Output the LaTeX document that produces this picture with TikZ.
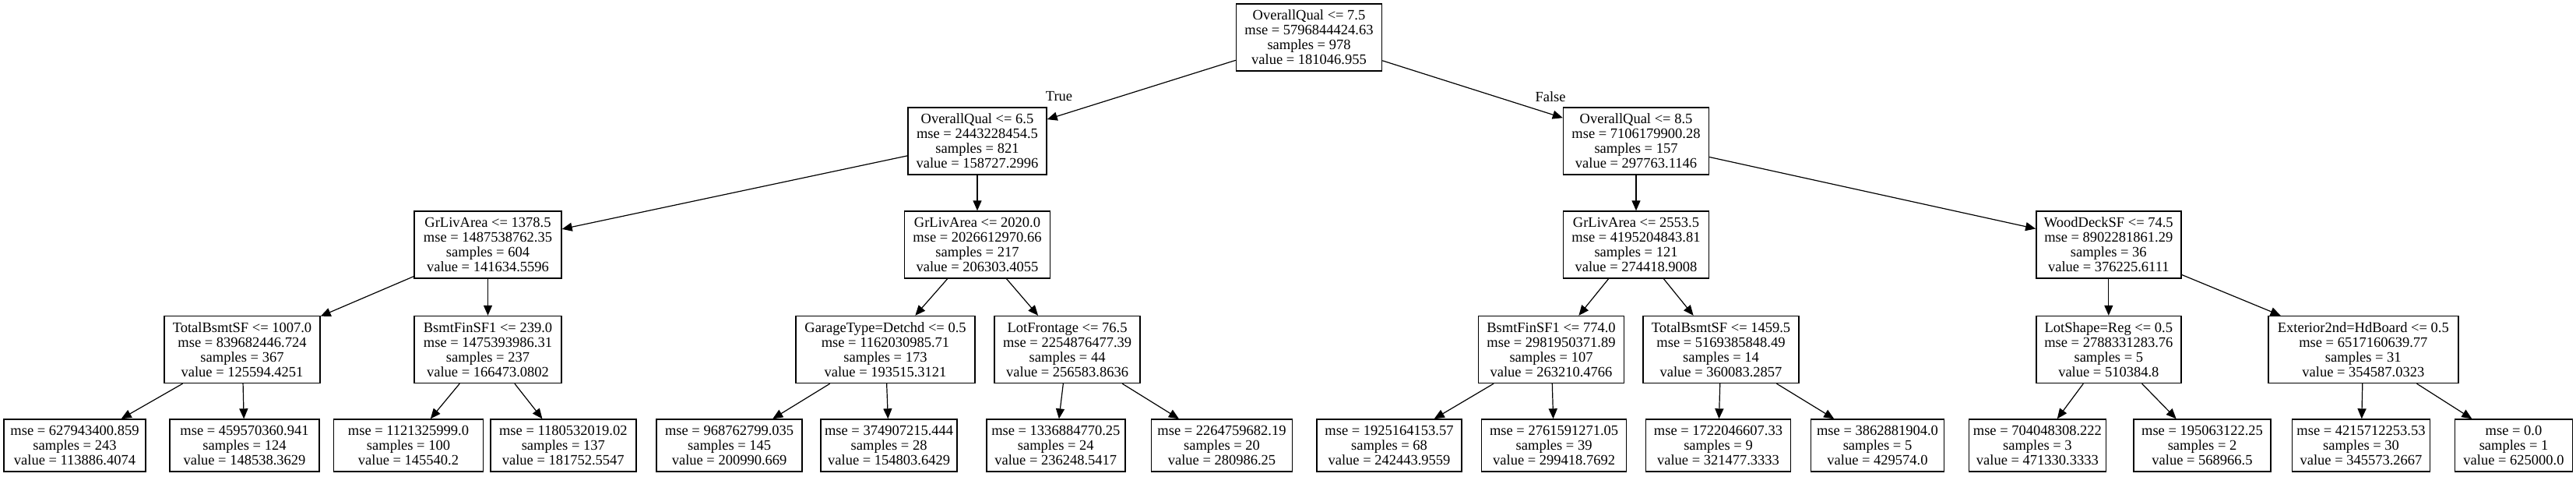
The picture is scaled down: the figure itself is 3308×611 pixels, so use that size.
\documentclass[tikz,border=0pt]{standalone}
\usepackage{fontspec}
\setmainfont{Liberation Serif}
\usetikzlibrary{arrows.meta}
\begin{document}
\begin{tikzpicture}[x=1pt,y=-1pt,
  tn/.style={draw=black, line width=1.4pt, rectangle, align=center, inner xsep=2pt, inner ysep=0pt,
             font=\fontsize{18.5}{19}\selectfont, minimum height=86pt},
  leaf/.style={tn, minimum height=67pt},
  edge/.style={-{Triangle[length=13pt,width=11pt]}, line width=1.2pt},
  lbl/.style={font=\fontsize{18.5}{19}\selectfont, inner sep=0pt}]
\useasboundingbox (0,0) rectangle (3308,611);
% root
\node[tn, minimum width=187pt] (n0) at (1681,48) {OverallQual <= 7.5\\mse = 5796844424.63\\samples = 978\\value = 181046.955};
% level 1
\node[tn, minimum width=178pt] (n1) at (1255,181) {OverallQual <= 6.5\\mse = 2443228454.5\\samples = 821\\value = 158727.2996};
\node[tn, minimum width=187pt] (n2) at (2101,181) {OverallQual <= 8.5\\mse = 7106179900.28\\samples = 157\\value = 297763.1146};
% level 2
\node[tn, minimum width=189pt] (n3) at (626.5,314) {GrLivArea <= 1378.5\\mse = 1487538762.35\\samples = 604\\value = 141634.5596};
\node[tn, minimum width=187pt] (n4) at (1255,314) {GrLivArea <= 2020.0\\mse = 2026612970.66\\samples = 217\\value = 206303.4055};
\node[tn, minimum width=187pt] (n5) at (2101,314) {GrLivArea <= 2553.5\\mse = 4195204843.81\\samples = 121\\value = 274418.9008};
\node[tn, minimum width=186pt] (n6) at (2707.8,314) {WoodDeckSF <= 74.5\\mse = 8902281861.29\\samples = 36\\value = 376225.6111};
% level 3
\node[tn, minimum width=200pt] (n7) at (311,448.5) {TotalBsmtSF <= 1007.0\\mse = 839682446.724\\samples = 367\\value = 125594.4251};
\node[tn, minimum width=189pt] (n8) at (626.5,448.5) {BsmtFinSF1 <= 239.0\\mse = 1475393986.31\\samples = 237\\value = 166473.0802};
\node[tn, minimum width=230pt] (n9) at (1137,448.5) {GarageType=Detchd <= 0.5\\mse = 1162030985.71\\samples = 173\\value = 193515.3121};
\node[tn, minimum width=187pt] (n10) at (1370.6,448.5) {LotFrontage <= 76.5\\mse = 2254876477.39\\samples = 44\\value = 256583.8636};
\node[tn, minimum width=187pt] (n11) at (1992,448.5) {BsmtFinSF1 <= 774.0\\mse = 2981950371.89\\samples = 107\\value = 263210.4766};
\node[tn, minimum width=200pt] (n12) at (2210,448.5) {TotalBsmtSF <= 1459.5\\mse = 5169385848.49\\samples = 14\\value = 360083.2857};
\node[tn, minimum width=186pt] (n13) at (2707.8,448.5) {LotShape=Reg <= 0.5\\mse = 2788331283.76\\samples = 5\\value = 510384.8};
\node[tn, minimum width=244pt] (n14) at (3034.8,448.5) {Exterior2nd=HdBoard <= 0.5\\mse = 6517160639.77\\samples = 31\\value = 354587.0323};
% leaves
\node[leaf, minimum width=182pt] (l1) at (96,571.5) {mse = 627943400.859\\samples = 243\\value = 113886.4074};
\node[leaf, minimum width=192pt] (l2) at (314,571.5) {mse = 459570360.941\\samples = 124\\value = 148538.3629};
\node[leaf, minimum width=192pt] (l3) at (524.5,571.5) {mse = 1121325999.0\\samples = 100\\value = 145540.2};
\node[leaf, minimum width=187pt] (l4) at (723.3,571.5) {mse = 1180532019.02\\samples = 137\\value = 181752.5547};
\node[leaf, minimum width=187pt] (l5) at (936.6,571.5) {mse = 968762799.035\\samples = 145\\value = 200990.669};
\node[leaf, minimum width=175pt] (l6) at (1141.6,571.5) {mse = 374907215.444\\samples = 28\\value = 154803.6429};
\node[leaf, minimum width=178pt] (l7) at (1355.8,571.5) {mse = 1336884770.25\\samples = 24\\value = 236248.5417};
\node[leaf, minimum width=181pt] (l8) at (1569,571.5) {mse = 2264759682.19\\samples = 20\\value = 280986.25};
\node[leaf, minimum width=186pt] (l9) at (1784,571.5) {mse = 1925164153.57\\samples = 68\\value = 242443.9559};
\node[leaf, minimum width=186pt] (l10) at (1995.6,571.5) {mse = 2761591271.05\\samples = 39\\value = 299418.7692};
\node[leaf, minimum width=186pt] (l11) at (2206.5,571.5) {mse = 1722046607.33\\samples = 9\\value = 321477.3333};
\node[leaf, minimum width=171pt] (l12) at (2411,571.5) {mse = 3862881904.0\\samples = 5\\value = 429574.0};
\node[leaf, minimum width=176pt] (l13) at (2616.4,571.5) {mse = 704048308.222\\samples = 3\\value = 471330.3333};
\node[leaf, minimum width=176pt] (l14) at (2828,571.5) {mse = 195063122.25\\samples = 2\\value = 568966.5};
\node[leaf, minimum width=177pt] (l15) at (3032,571.5) {mse = 4215712253.53\\samples = 30\\value = 345573.2667};
\node[leaf, minimum width=151pt] (l16) at (3228,571.5) {mse = 0.0\\samples = 1\\value = 625000.0};
% edge labels
\node[lbl] (tl) at (1360,124) {True};
\node[lbl] (fl) at (1991,124) {False};
% edges
\draw[edge] (n0) -- (n1);
\draw[edge] (n0) -- (n2);
\draw[edge] (n1) -- (n3);
\draw[edge] (n1) -- (n4);
\draw[edge] (n2) -- (n5);
\draw[edge] (n2) -- (n6);
\draw[edge] (n3) -- (n7);
\draw[edge] (n3) -- (n8);
\draw[edge] (n4) -- (n9);
\draw[edge] (n4) -- (n10);
\draw[edge] (n5) -- (n11);
\draw[edge] (n5) -- (n12);
\draw[edge] (n6) -- (n13);
\draw[edge] (n6) -- (n14);
\draw[edge] (n7) -- (l1);
\draw[edge] (n7) -- (l2);
\draw[edge] (n8) -- (l3);
\draw[edge] (n8) -- (l4);
\draw[edge] (n9) -- (l5);
\draw[edge] (n9) -- (l6);
\draw[edge] (n10) -- (l7);
\draw[edge] (n10) -- (l8);
\draw[edge] (n11) -- (l9);
\draw[edge] (n11) -- (l10);
\draw[edge] (n12) -- (l11);
\draw[edge] (n12) -- (l12);
\draw[edge] (n13) -- (l13);
\draw[edge] (n13) -- (l14);
\draw[edge] (n14) -- (l15);
\draw[edge] (n14) -- (l16);
\end{tikzpicture}
\end{document}
